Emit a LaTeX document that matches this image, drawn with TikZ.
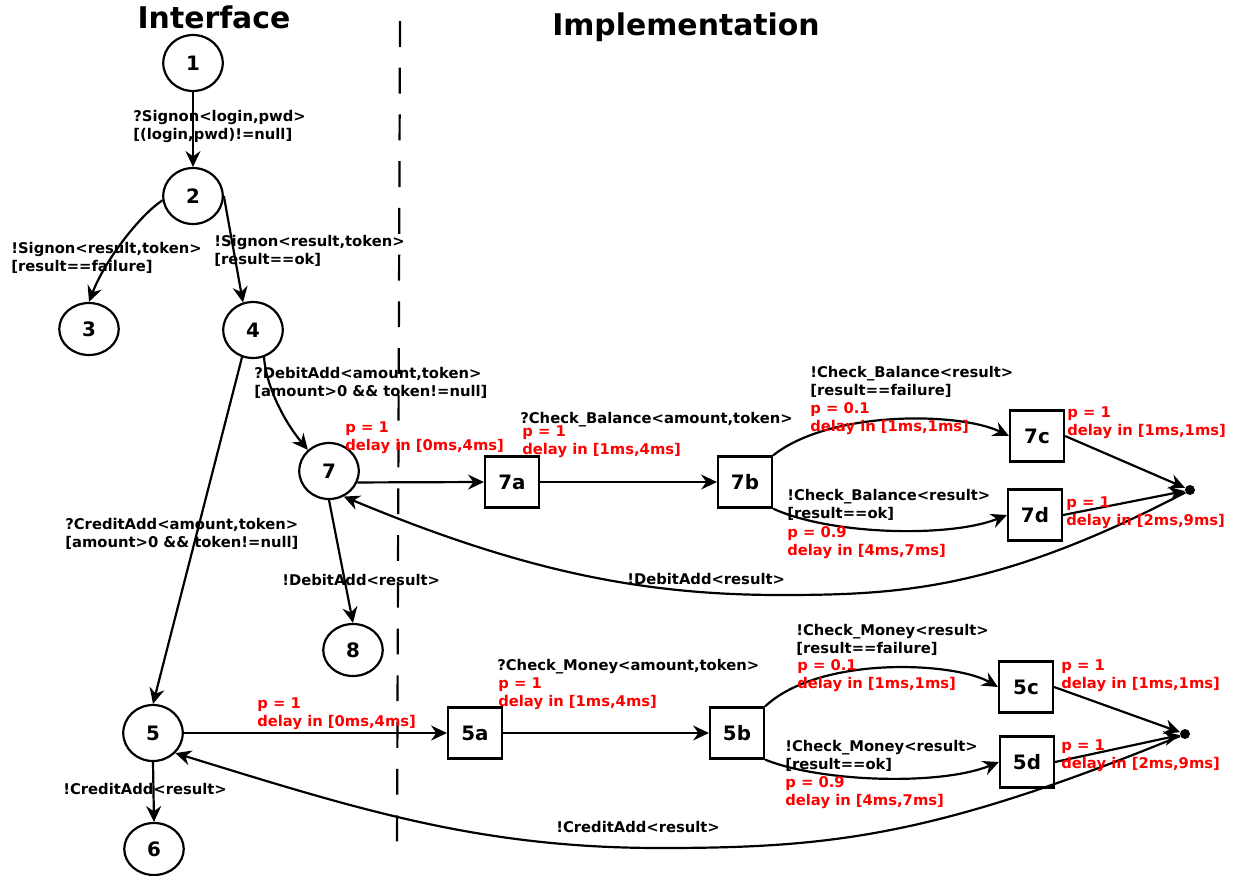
\documentclass[tikz,border=0pt]{standalone}
\usepackage{fontspec}
\setmainfont{DejaVu Sans}
\usetikzlibrary{arrows.meta,shapes.geometric}
\begin{document}
\begin{tikzpicture}[x=0.02cm,y=-0.02cm,
  state/.style={ellipse, draw, line width=1.25pt, minimum width=1.19cm,
    minimum height=1.12cm, inner sep=0pt, font=\fontsize{11.3}{13}\selectfont\bfseries},
  lowstate/.style={state, minimum height=1.04cm},
  act/.style={rectangle, draw, line width=1.25pt, minimum width=1.08cm,
    minimum height=1.02cm, inner sep=0pt, font=\fontsize{11.3}{13}\selectfont\bfseries},
  joindot/.style={circle, fill=black, inner sep=0pt, minimum size=0.2cm},
  lbl/.style={anchor=north west, inner sep=0pt, align=left,
    font=\fontsize{8.4}{10.4}\selectfont\bfseries},
  prob/.style={lbl, text=red},
  title/.style={anchor=base, font=\fontsize{17}{20}\selectfont\bfseries},
  edge/.style={line width=1.25pt, -{Stealth[length=9pt,width=8.5pt,inset=3pt]}},
]
\useasboundingbox (0,0) rectangle (1238,876);

% headings and the separating line
\node[title] (hint) at (214,28) {Interface};
\node[title] (himp) at (686,35) {Implementation};
\coordinate (septop) at (400,21);
\coordinate (sepbot) at (397,848);
\draw[line width=1.25pt, dash pattern=on 14.7pt off 11.9pt] (septop) -- (sepbot);

% interface states
\node[state] (1) at (193,63) {1};
\node[state] (2) at (193,196) {2};
\node[lowstate] (3) at (89,329) {3};
\node[state] (4) at (253,330) {4};
\node[state] (7) at (329,471) {7};
\node[lowstate] (8) at (353,650) {8};
\node[state] (5) at (153,733) {5};
\node[lowstate] (6) at (154,849) {6};

% implementation activities
\node[act] (7a) at (512,482) {7a};
\node[act] (7b) at (745,482) {7b};
\node[act] (7c) at (1037,436) {7c};
\node[act] (7d) at (1035,515) {7d};
\node[joindot] (j7) at (1190,490) {};

\node[act] (5a) at (475,733) {5a};
\node[act] (5b) at (737,733) {5b};
\node[act] (5c) at (1026,687) {5c};
\node[act] (5d) at (1027,762) {5d};
\node[joindot] (j5) at (1185,734) {};

\coordinate (m7) at (780,595);
\coordinate (m5) at (660,848);

% interface transitions
\draw[edge] (1) -- (2);
\draw[edge] (2.188) .. controls (140,215) and (105,260) .. (3.north);
\draw[edge] (2.east) -- (4.110);
\draw[edge] (4.-68) .. controls (266,385) and (283,420) .. (7.135);
\draw[edge] (4.-112) -- (5.north);
\draw[edge] (7.south) -- (8.north);
\draw[edge] (5.south) -- (6.north);

% debit implementation
\draw[edge] (7.-22) -- (7a.west);
\draw[edge] (7a.east) -- (7b.west);
\draw[edge] (7b.north east) .. controls (830,410) and (960,412) .. (7c.west);
\draw[edge] (7b.south east) .. controls (830,535) and (950,538) .. (7d.west);
\draw[edge] (7c.east) -- (j7);
\draw[edge] (7d.east) -- (j7);
\draw[edge] (j7) .. controls (998,590) and (900,595) .. (m7)
  .. controls (640,595) and (520,570) .. (7.-60);

% credit implementation
\draw[edge] (5.east) -- (5a.west);
\draw[edge] (5a.east) -- (5b.west);
\draw[edge] (5b.north east) .. controls (820,655) and (955,662) .. (5c.west);
\draw[edge] (5b.south east) .. controls (820,782) and (940,786) .. (5d.west);
\draw[edge] (5c.east) -- (j5);
\draw[edge] (5d.east) -- (j5);
\draw[edge] (j5) .. controls (933,837) and (830,848) .. (m5)
  .. controls (480,848) and (360,810) .. (5.-42);

% transition labels
\node[lbl] (l12) at (133,110) {?Signon<login,pwd>\\{}[(login,pwd)!=null]};
\node[lbl] (l23) at (11,242) {!Signon<result,token>\\{}[result==failure]};
\node[lbl] (l24) at (214,235) {!Signon<result,token>\\{}[result==ok]};
\node[lbl] (l47) at (254,367) {?DebitAdd<amount,token>\\{}[amount>0 \&\& token!=null]};
\node[lbl] (l45) at (65,518) {?CreditAdd<amount,token>\\{}[amount>0 \&\& token!=null]};
\node[lbl] (l78) at (282,574) {!DebitAdd<result>};
\node[lbl] (l56) at (63,783) {!CreditAdd<result>};

\node[prob] (p77a) at (345,421) {p = 1\\delay in [0ms,4ms]};
\node[lbl] (l7ab) at (520,412) {?Check\_Balance<amount,token>};
\node[prob] (p7ab) at (522,425) {p = 1\\delay in [1ms,4ms]};
\node[lbl] (l7bc) at (810,366) {!Check\_Balance<result>\\{}[result==failure]};
\node[prob] (p7bc) at (810,402) {p = 0.1\\delay in [1ms,1ms]};
\node[prob] (p7c) at (1067,406) {p = 1\\delay in [1ms,1ms]};
\node[lbl] (l7bd) at (787,489) {!Check\_Balance<result>\\{}[result==ok]};
\node[prob] (p7bd) at (787,526) {p = 0.9\\delay in [4ms,7ms]};
\node[prob] (p7d) at (1066,496) {p = 1\\delay in [2ms,9ms]};
\node[lbl] (l7r) at (627,573) {!DebitAdd<result>};

\node[prob] (p55a) at (257,697) {p = 1\\delay in [0ms,4ms]};
\node[lbl] (l5ab) at (497,659) {?Check\_Money<amount,token>};
\node[prob] (p5ab) at (498,677) {p = 1\\delay in [1ms,4ms]};
\node[lbl] (l5bc) at (796,624) {!Check\_Money<result>\\{}[result==failure]};
\node[prob] (p5bc) at (797,659) {p = 0.1\\delay in [1ms,1ms]};
\node[prob] (p5c) at (1061,659) {p = 1\\delay in [1ms,1ms]};
\node[lbl] (l5bd) at (785,740) {!Check\_Money<result>\\{}[result==ok]};
\node[prob] (p5bd) at (785,776) {p = 0.9\\delay in [4ms,7ms]};
\node[prob] (p5d) at (1061,739) {p = 1\\delay in [2ms,9ms]};
\node[lbl] (l5r) at (556,821) {!CreditAdd<result>};
\end{tikzpicture}
\end{document}
